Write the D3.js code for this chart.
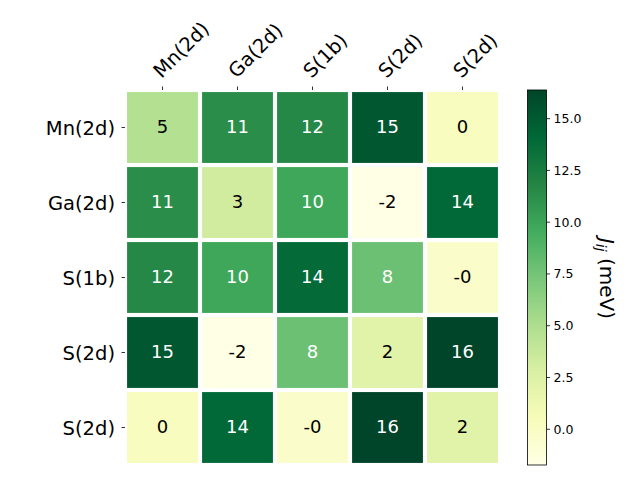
<!DOCTYPE html>
<html>
<head>
<meta charset="utf-8">
<script src="https://cdn.jsdelivr.net/npm/d3@7"></script>
<style>
  html, body { margin: 0; padding: 0; background: #fff; }
  svg { display: block; font-family: "DejaVu Sans", sans-serif; }
</style>
</head>
<body>
<svg id="chart" width="640" height="480"></svg>
<script>
// ---- data ----
const colLabels = ["Mn(2d)", "Ga(2d)", "S(1b)", "S(2d)", "S(2d)"];
const rowLabels = ["Mn(2d)", "Ga(2d)", "S(1b)", "S(2d)", "S(2d)"];
const rowMn   = [4.7, 11.3, 11.6, 15.2, 0.2];
const rowGa   = [11.3, 3.2, 9.8, -1.75, 14.0];
const rowS1b  = [11.6, 9.8, 13.9, 7.8, -0.3];
const rowS2dA = [15.2, -1.75, 7.8, 2.2, 16.36];
const rowS2dB = [0.2, 14.0, -0.3, 16.36, 2.2];
const cbarTicks = [0, 2.5, 5, 7.5, 10, 12.5, 15];
const cbarLabelMain = "J";
const cbarLabelSub = "ij";
const cbarLabelUnit = " (meV)";

const matrix = [rowMn, rowGa, rowS1b, rowS2dA, rowS2dB];

// matplotlib YlGn
const ylgn = ["#ffffe5", "#f7fcb9", "#d9f0a3", "#addd8e", "#78c679",
              "#41ab5d", "#238443", "#006837", "#004529"];

const svg = d3.select("#chart");
const mLeft = 125, mTop = 90, mSize = 375;
const cbX = 527.5, cbW = 19;

const allVals = matrix.flat();
const [vmin, vmax] = d3.extent(allVals);

const x = d3.scaleBand().domain(d3.range(colLabels.length)).range([mLeft, mLeft + mSize]);
const y = d3.scaleBand().domain(d3.range(rowLabels.length)).range([mTop, mTop + mSize]);

const tScale = d3.scaleLinear().domain([vmin, vmax]).range([0, 1]).clamp(true);
const cmap = d3.scaleLinear()
  .domain(d3.range(ylgn.length).map(i => i / (ylgn.length - 1)))
  .range(ylgn)
  .interpolate(d3.interpolateRgb);
const color = v => cmap(tScale(v));

const fmt = v => { const r = Math.abs(v).toFixed(0); return (v < 0 ? "-" : "") + r; };

const cells = [];
matrix.forEach((row, i) => row.forEach((v, j) => cells.push({ i, j, v })));

const lw = 2.08;
svg.append("g").selectAll("rect").data(cells).join("rect")
  .attr("x", d => x(d.j) + lw)
  .attr("y", d => y(d.i) + lw)
  .attr("width", x.bandwidth() - 2 * lw)
  .attr("height", y.bandwidth() - 2 * lw)
  .attr("fill", d => color(d.v));

svg.append("g").selectAll("text").data(cells).join("text")
  .attr("x", d => x(d.j) + x.bandwidth() / 2)
  .attr("y", d => y(d.i) + y.bandwidth() / 2 + 5.3)
  .attr("text-anchor", "middle")
  .attr("font-size", "18px")
  .attr("fill", d => tScale(d.v) > 0.5 ? "#ffffff" : "#000000")
  .text(d => fmt(d.v));

// y axis (left)
const yAxis = d3.axisLeft(y).tickSize(3.5).tickPadding(3.5).tickFormat(i => rowLabels[i]);
const gy = svg.append("g").attr("transform", `translate(${mLeft},0)`).call(yAxis);
gy.select(".domain").remove();
gy.selectAll(".tick line").attr("stroke", "#000").attr("stroke-width", 0.8);
gy.selectAll(".tick text").attr("font-size", "19.5px").attr("font-family", "DejaVu Sans")
  .attr("fill", "#000").attr("dy", null)
  .attr("y", 7.1).attr("x", -10);

// x axis (top)
const xAxis = d3.axisTop(x).tickSize(3.5).tickPadding(3.5).tickFormat(i => colLabels[i]);
const gx = svg.append("g").attr("transform", `translate(0,${mTop})`).call(xAxis);
gx.select(".domain").remove();
gx.selectAll(".tick line").attr("stroke", "#000").attr("stroke-width", 0.8);
gx.selectAll(".tick text").attr("font-size", "19.5px").attr("font-family", "DejaVu Sans")
  .attr("fill", "#000")
  .attr("text-anchor", "start")
  .attr("x", null).attr("y", null).attr("dy", null)
  .attr("transform", "translate(-1,-11) rotate(-45)");

// colorbar
const cbScale = d3.scaleLinear().domain([vmin, vmax]).range([mTop + mSize, mTop]);
const defs = svg.append("defs");
const grad = defs.append("linearGradient").attr("id", "cbgrad")
  .attr("x1", 0).attr("y1", 1).attr("x2", 0).attr("y2", 0);
grad.selectAll("stop").data(ylgn).join("stop")
  .attr("offset", (d, i) => i / (ylgn.length - 1))
  .attr("stop-color", d => d);
svg.append("rect").attr("x", cbX).attr("y", mTop).attr("width", cbW).attr("height", mSize)
  .attr("fill", "url(#cbgrad)").attr("stroke", "#000").attr("stroke-width", 0.8);

const cbAxis = d3.axisRight(cbScale).tickValues(cbarTicks).tickSize(3.5).tickPadding(3.5)
  .tickFormat(d3.format(".1f"));
const gcb = svg.append("g").attr("transform", `translate(${cbX + cbW},0)`).call(cbAxis);
gcb.select(".domain").remove();
gcb.selectAll(".tick line").attr("stroke", "#000").attr("stroke-width", 0.8);
gcb.selectAll(".tick text").attr("font-size", "12.5px").attr("font-family", "DejaVu Sans")
  .attr("fill", "#000").attr("dy", null).attr("y", 4.5);

// colorbar label
const lbl = svg.append("text")
  .attr("transform", `translate(600,${mTop + mSize / 2 + 1}) rotate(90)`)
  .attr("text-anchor", "middle")
  .attr("font-size", "20px")
  .attr("fill", "#000");
lbl.append("tspan").attr("font-style", "italic").text(cbarLabelMain);
lbl.append("tspan").attr("font-style", "italic").attr("font-size", "14px").attr("dy", 4).text(cbarLabelSub);
lbl.append("tspan").attr("dy", -4).text(cbarLabelUnit);
</script>
</body>
</html>
